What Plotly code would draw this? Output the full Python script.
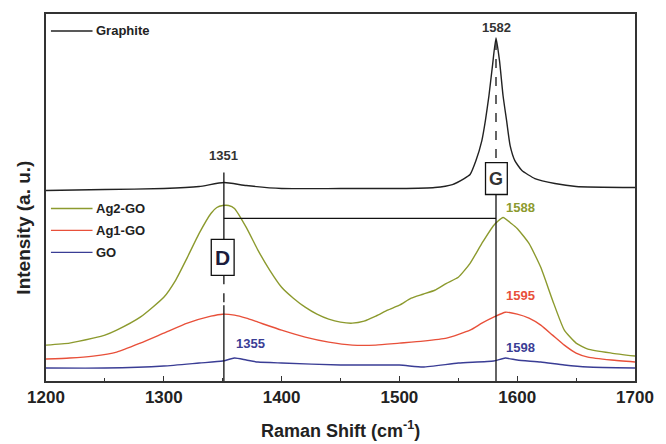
import plotly.graph_objects as go

# ---------------- data (arbitrary intensity units) ----------------
graphite_x = [1200, 1250, 1300, 1330, 1351, 1370, 1400, 1450, 1500, 1530, 1545, 1555, 1560, 1565,
              1570, 1573, 1576, 1579, 1582, 1585, 1588, 1591, 1594, 1598, 1604, 1615, 1632, 1650, 1700]
graphite_y = [191, 192, 193, 195, 199, 196, 193, 193, 193, 194, 197, 203, 207, 221,
              241, 261, 286, 316, 344, 321, 286, 261, 236, 221, 211, 203, 198, 195, 194]

ag2_x = [1200, 1220, 1240, 1250, 1260, 1280, 1300, 1310, 1320, 1330, 1340, 1345, 1350, 1355, 1360,
         1370, 1380, 1390, 1400, 1410, 1420, 1430, 1440, 1450, 1460, 1470, 1480, 1490, 1500, 1510,
         1520, 1530, 1540, 1550, 1560, 1570, 1580, 1588, 1595, 1600, 1610, 1620, 1630, 1640, 1650,
         1660, 1680, 1700]
ag2_y = [36, 38, 43, 46, 51, 64, 84, 101, 124, 148, 168, 174, 176, 176, 173,
         154, 131, 111, 94, 83, 74, 67, 62, 59, 58, 60, 65, 71, 76, 83,
         87, 91, 98, 104, 118, 138, 156, 164, 158, 153, 138, 114, 81, 51, 38,
         32, 28, 25]

ag1_x = [1200, 1220, 1240, 1260, 1280, 1300, 1320, 1340, 1350, 1360, 1370, 1380, 1400, 1420, 1440,
         1460, 1480, 1500, 1520, 1540, 1560, 1570, 1580, 1590, 1600, 1610, 1620, 1630, 1640, 1650,
         1660, 1680, 1700]
ag1_y = [22, 23, 25, 29, 38, 48, 58, 65, 67, 66, 63, 59, 51, 44, 39,
         36, 36, 38, 40, 43, 51, 58, 64, 69, 67, 63, 56, 46, 36, 28,
         24, 21, 19]

go_x = [1200, 1250, 1300, 1330, 1350, 1360, 1370, 1380, 1400, 1450, 1500, 1520, 1550, 1580, 1590,
        1600, 1620, 1640, 1660, 1700]
go_y = [13, 13, 15, 18, 20, 23, 21, 19, 18, 16, 16, 14, 18, 20, 23,
        21, 19, 16, 14, 13]

series_names = ["Graphite", "Ag2-GO", "Ag1-GO", "GO"]
series_colors = ["#222222", "#8c9a2e", "#e8503a", "#3a3d95"]

peak_labels = ["1351", "1582", "1588", "1595", "1598", "1355"]
peak_label_x = [1351, 1582, 1603, 1602.5, 1603, 1373.5]
peak_label_y = [226, 354, 174, 86, 33.5, 37.5]
peak_label_colors = ["#333333", "#333333", "#8c9a2e", "#e8503a", "#3a3d95", "#3a3d95"]

d_band = 1351
g_band = 1582

x_ticks = [1200, 1300, 1400, 1500, 1600, 1700]

FONT = "Liberation Sans, Arial, sans-serif"

fig = go.Figure()
for xs, ys, name, col in zip([graphite_x, ag2_x, ag1_x, go_x],
                              [graphite_y, ag2_y, ag1_y, go_y],
                              series_names, series_colors):
    fig.add_trace(go.Scatter(x=xs, y=ys, mode="lines", name=name,
                             line=dict(color=col, width=1.4, shape="spline", smoothing=0.5),
                             showlegend=False))

# ---------------- D / G marker lines and boxes ----------------
shapes = []
lc = "#111111"
# D band line
shapes.append(dict(type="line", xref="x", yref="y", x0=d_band, x1=d_band, y0=209, y1=142,
                   line=dict(color=lc, width=1.3)))
shapes.append(dict(type="line", xref="x", yref="y", x0=d_band, x1=d_band, y0=106, y1=76,
                   line=dict(color=lc, width=1.3, dash="dash")))
shapes.append(dict(type="line", xref="x", yref="y", x0=d_band, x1=d_band, y0=76, y1=0,
                   line=dict(color=lc, width=1.3)))
# G band line
shapes.append(dict(type="line", xref="x", yref="y", x0=g_band, x1=g_band, y0=341, y1=219,
                   line=dict(color=lc, width=1.3, dash="dash")))
shapes.append(dict(type="line", xref="x", yref="y", x0=g_band, x1=g_band, y0=187, y1=0,
                   line=dict(color=lc, width=1.3)))
# horizontal connector
shapes.append(dict(type="line", xref="x", yref="y", x0=d_band, x1=g_band, y0=163, y1=163,
                   line=dict(color=lc, width=1.3)))
# boxes
shapes.append(dict(type="rect", xref="x", yref="y", x0=1340.3, x1=1359.7, y0=106, y1=142,
                   line=dict(color=lc, width=1.3), fillcolor="white"))
shapes.append(dict(type="rect", xref="x", yref="y", x0=1573.1, x1=1591.6, y0=187, y1=219,
                   line=dict(color=lc, width=1.3), fillcolor="white"))

# ---------------- manual legend ----------------
def px_to_paper_x(px):
    return (px - 46) / 595.0

def px_to_paper_y(py):
    return (381 - py) / 368.0

legend_rows_py = [30, 208, 230, 252]
annotations = []
for name, col, py in zip(series_names, series_colors, legend_rows_py):
    shapes.append(dict(type="line", xref="paper", yref="paper",
                       x0=px_to_paper_x(51), x1=px_to_paper_x(93),
                       y0=px_to_paper_y(py), y1=px_to_paper_y(py),
                       line=dict(color=col, width=1.4)))
    annotations.append(dict(xref="paper", yref="paper", x=px_to_paper_x(94), y=px_to_paper_y(py),
                            text=name, showarrow=False, xanchor="left", yanchor="middle",
                            font=dict(family=FONT, size=13, color="#222222", weight="bold")))

for t, x, y, c in zip(peak_labels, peak_label_x, peak_label_y, peak_label_colors):
    annotations.append(dict(xref="x", yref="y", x=x, y=y, text=t, showarrow=False,
                            xanchor="center", yanchor="middle",
                            font=dict(family=FONT, size=13, color=c, weight="bold")))

annotations.append(dict(xref="x", yref="y", x=1350, y=124, text="D", showarrow=False,
                        font=dict(family=FONT, size=21, color="#1c1c3c", weight="bold")))
annotations.append(dict(xref="x", yref="y", x=1582.35, y=203, text="G", showarrow=False,
                        font=dict(family=FONT, size=18, color="#333333", weight="bold")))

# axis titles
annotations.append(dict(xref="paper", yref="paper", x=0.5, y=px_to_paper_y(430),
                        text="Raman Shift (cm<sup>-1</sup>)", showarrow=False,
                        xanchor="center", yanchor="middle",
                        font=dict(family=FONT, size=18, color="#222222", weight="bold")))
annotations.append(dict(xref="paper", yref="paper", x=px_to_paper_x(23), y=px_to_paper_y(227),
                        text="Intensity (a. u.)", showarrow=False, textangle=-90,
                        xanchor="center", yanchor="middle",
                        font=dict(family=FONT, size=19, color="#222222", weight="bold")))

fig.update_layout(
    width=666, height=444,
    margin=dict(l=46, r=25, t=13, b=63),
    plot_bgcolor="white", paper_bgcolor="white",
    shapes=shapes, annotations=annotations,
    showlegend=False,
)
fig.update_xaxes(range=[1200, 1700], tickvals=x_ticks, ticktext=[str(v) for v in x_ticks],
                 ticks="inside", ticklen=5, tickwidth=1.2, tickcolor="#333333",
                 minor=dict(dtick=50, ticks="inside", ticklen=3, tickcolor="#333333"),
                 showline=True, linecolor="#333333", linewidth=1.5, mirror=True,
                 showgrid=False, zeroline=False,
                 tickfont=dict(family=FONT, size=17, color="#222222", weight="bold"))
fig.update_yaxes(range=[0, 368], showticklabels=False, ticks="",
                 showline=True, linecolor="#333333", linewidth=1.5, mirror=True,
                 showgrid=False, zeroline=False)

fig.write_html("out.html")
